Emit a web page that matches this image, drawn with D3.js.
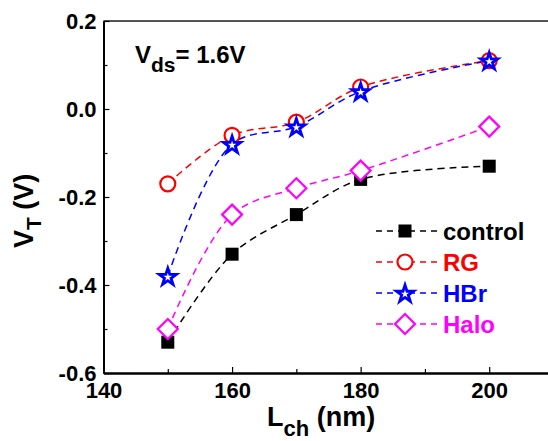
<!DOCTYPE html>
<html>
<head>
<meta charset="utf-8">
<script src="https://cdn.jsdelivr.net/npm/d3@7"></script>
<style>
  html, body { margin: 0; padding: 0; background: #fff; }
  svg { display: block; font-family: "Liberation Sans", Arial, sans-serif; font-weight: bold; }
</style>
</head>
<body>
<svg id="chart" width="548" height="441"></svg>
<script>
// Channel lengths (nm)
const lengths = [150, 160, 170, 180, 200];
// Threshold voltage V_T (V) for each process
const control = [-0.53, -0.33, -0.24, -0.16, -0.13];
const rg      = [-0.17, -0.06, -0.03, 0.05, 0.11];
const hbr     = [-0.38, -0.08, -0.04, 0.04, 0.11];
const halo    = [-0.50, -0.24, -0.18, -0.14, -0.04];

const seriesNames = ["control", "RG", "HBr", "Halo"];
const seriesColors = ["#000000", "#ff0000", "#0000ff", "#ff00ff"];
const seriesShapes = ["square", "circle", "star", "diamond"];

const xTicks = [140, 160, 180, 200];
const xMinor = [150, 170, 190];
const yTicks = [-0.6, -0.4, -0.2, 0.0, 0.2];
const yMinor = [-0.5, -0.3, -0.1, 0.1];

const svg = d3.select("#chart");
const plotLeft = 103.5, plotTop = 21, plotBottom = 373, plotRight = 553.5;

const x = d3.scaleLinear().domain([140, 210]).range([plotLeft, plotRight]);
const y = d3.scaleLinear().domain([-0.6, 0.2]).range([plotBottom, plotTop]);

// frame: top and right edges
svg.append("line")
  .attr("x1", plotLeft).attr("x2", plotRight).attr("y1", plotTop).attr("y2", plotTop)
  .attr("stroke", "#555").attr("stroke-width", 2);
svg.append("line")
  .attr("x1", plotRight).attr("x2", plotRight).attr("y1", plotTop).attr("y2", plotBottom)
  .attr("stroke", "#555").attr("stroke-width", 2);

// axes with inward ticks
const gx = svg.append("g").attr("transform", `translate(0,${plotBottom})`)
  .call(d3.axisBottom(x).tickValues(xTicks).tickSizeInner(-6).tickSizeOuter(0).tickPadding(9));
const gxm = svg.append("g").attr("transform", `translate(0,${plotBottom})`)
  .call(d3.axisBottom(x).tickValues(xMinor).tickSizeInner(-4).tickSizeOuter(0).tickFormat(""));
const gy = svg.append("g").attr("transform", `translate(${plotLeft},0)`)
  .call(d3.axisLeft(y).tickValues(yTicks).tickSizeInner(-6).tickSizeOuter(0).tickPadding(7)
    .tickFormat(d3.format(".1f")));
const gym = svg.append("g").attr("transform", `translate(${plotLeft},0)`)
  .call(d3.axisLeft(y).tickValues(yMinor).tickSizeInner(-4).tickSizeOuter(0).tickFormat(""));

[gx, gxm, gy, gym].forEach(g => {
  g.select(".domain").attr("stroke", "#000").attr("stroke-width", 2);
  g.selectAll(".tick line").attr("stroke", "#000").attr("stroke-width", 1.2);
  g.selectAll(".tick text").attr("fill", "#000")
    .style("font-size", "22px").style("font-weight", "bold")
    .style("font-family", "'Liberation Sans', Arial, sans-serif");
});
gy.selectAll(".tick text").text(d => d3.format(".1f")(d).replace("−", "-"));
gx.selectAll(".tick text").text(d => d);

// dashed trend curves
const allSeries = [control, rg, hbr, halo];
const line = d3.line()
  .x(d => x(d[0])).y(d => y(d[1]))
  .curve(d3.curveCatmullRom.alpha(0.5));

allSeries.forEach((vals, i) => {
  const pts = lengths.map((l, k) => [l, vals[k]]);
  svg.append("path")
    .attr("d", line(pts))
    .attr("fill", "none")
    .attr("stroke", seriesColors[i])
    .attr("stroke-width", 1.5)
    .attr("stroke-dasharray", "7,5");
});

// marker drawing
function drawMarker(g, shape, color, cx, cy) {
  if (shape === "square") {
    g.append("rect").attr("x", cx - 6.5).attr("y", cy - 6.5)
      .attr("width", 13).attr("height", 13).attr("fill", color);
  } else if (shape === "circle") {
    g.append("circle").attr("cx", cx).attr("cy", cy).attr("r", 7.5)
      .attr("fill", "#fff").attr("stroke", color).attr("stroke-width", 2.2);
  } else if (shape === "star") {
    g.append("path")
      .attr("d", d3.symbol().type(d3.symbolStar).size(90)())
      .attr("transform", `translate(${cx},${cy + 1})`)
      .attr("fill", "#fff").attr("stroke", color).attr("stroke-width", 2.8)
      .attr("stroke-linejoin", "miter");
  } else if (shape === "diamond") {
    const r = 10;
    g.append("path")
      .attr("d", `M${cx},${cy - r}L${cx + r},${cy}L${cx},${cy + r}L${cx - r},${cy}Z`)
      .attr("fill", "#fff").attr("stroke", color).attr("stroke-width", 2.2);
  }
}

const markers = svg.append("g");
allSeries.forEach((vals, i) => {
  lengths.forEach((l, k) => drawMarker(markers, seriesShapes[i], seriesColors[i], x(l), y(vals[k])));
});

// legend
const legend = svg.append("g");
const legY = [231, 262, 293, 324];
seriesNames.forEach((name, i) => {
  const ly = legY[i];
  legend.append("line")
    .attr("x1", 376).attr("x2", 438).attr("y1", ly).attr("y2", ly)
    .attr("stroke", seriesColors[i]).attr("stroke-width", 1.5)
    .attr("stroke-dasharray", "6,5");
  drawMarker(legend, seriesShapes[i], seriesColors[i], 405, ly);
  legend.append("text")
    .attr("x", 443).attr("y", ly + 8.5)
    .attr("fill", seriesColors[i])
    .style("font-size", "24px")
    .text(name);
});

// annotation
const ann = svg.append("text").attr("x", 135).attr("y", 63).style("font-size", "24px").attr("fill", "#000");
ann.append("tspan").text("V");
ann.append("tspan").attr("dy", 9).style("font-size", "21px").text("ds");
ann.append("tspan").attr("dy", -9).text("= 1.6V");

// axis titles
const xt = svg.append("text").attr("x", 267).attr("y", 426).style("font-size", "27px").attr("fill", "#000");
xt.append("tspan").text("L");
xt.append("tspan").attr("dy", 10).style("font-size", "22px").text("ch");
xt.append("tspan").attr("dy", -10).text(" (nm)");

const yt = svg.append("text")
  .attr("transform", "translate(33,248) rotate(-90)")
  .style("font-size", "27px").attr("fill", "#000");
yt.append("tspan").text("V");
yt.append("tspan").attr("dy", 8).style("font-size", "21px").text("T");
yt.append("tspan").attr("dy", -8).text(" (V)");
</script>
</body>
</html>
